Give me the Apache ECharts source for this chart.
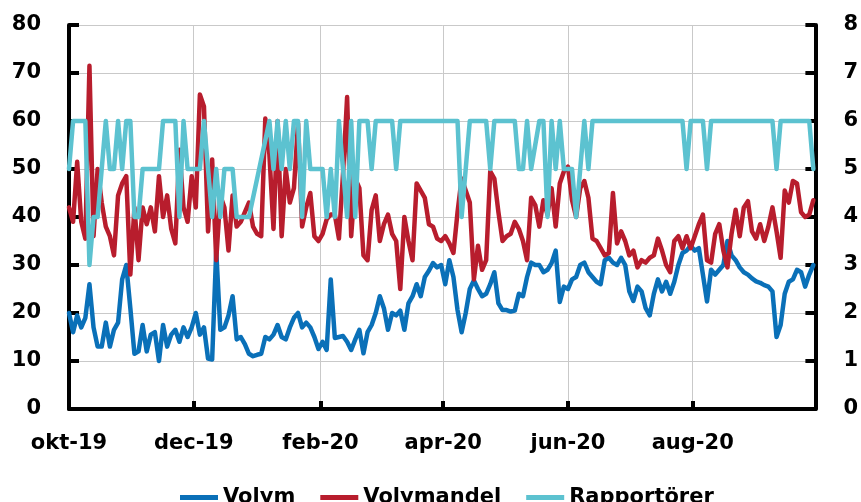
<!DOCTYPE html>
<html>
<head>
<meta charset="utf-8">
<script src="https://cdn.jsdelivr.net/npm/echarts@6/dist/echarts.min.js"></script>
<style>html,body{margin:0;padding:0;background:#fff}#c{width:861px;height:502px}</style>
</head>
<body>
<div id="c"></div>
<script>
// Period shown: 2019-10-01 .. 2020-09-30 ; values sampled every 2nd calendar day
const startDate = '2019-10-01';
const endDate = '2020-09-30';
const sampleStep = 2;
const tickMonths = [10, 12, 2, 4, 6, 8];
const monthNames = ['jan','feb','mar','apr','maj','jun','jul','aug','sep','okt','nov','dec'];
const seriesNames = ['Volym', 'Volymandel', 'Rapportörer'];

const volym = [
  20, 16, 19.5, 17, 19, 26, 17, 13, 13, 18,
  13, 16.5, 18, 27, 30, 21, 11.5, 12, 17.5, 12,
  15.5, 16, 10, 17.5, 13, 15.5, 16.5, 14, 17, 15,
  17, 20, 15.5, 17, 10.5, 10.3, 33, 16.5, 17, 19.5,
  23.5, 14.5, 15, 13.5, 11.5, 11, 11.3, 11.5, 15, 14.5,
  15.5, 17.5, 15, 14.5, 17, 19, 20, 17, 18, 17,
  15, 12.5, 14, 12.3, 27, 14.8, 15, 15.2, 14, 12.3,
  14.5, 16.5, 11.6, 16, 17.5, 20, 23.5, 21, 16.5, 20,
  19.5, 20.5, 16.5, 22, 23.5, 26, 23.5, 27.5, 28.8, 30.4,
  29.5, 30, 26, 31, 27.5, 20.6, 16, 20, 25, 26.8,
  25, 23.5, 24, 26, 28.5, 22, 20.6, 20.6, 20.3, 20.5,
  24, 23.5, 27.5, 30.5, 30, 30, 28.5, 29, 30.4, 33,
  22.3, 25.5, 25, 27, 27.5, 30, 30.5, 28.5, 27.5, 26.5,
  26, 31, 31.5, 30.5, 30, 31.5, 30, 24.5, 22.5, 25.5,
  24.5, 21, 19.5, 24, 27, 24.5, 26.5, 24, 26.5, 30,
  32.5, 33, 34, 33, 33.5, 28, 22.4, 29, 28, 29,
  30, 35, 32, 31, 29.5, 28.5, 28, 27.2, 26.6, 26.3,
  25.8, 25.5, 24.5, 15, 17.5, 24, 26.5, 27, 29, 28.5,
  25.5, 28, 30
];

const volymandel = [
  42, 39, 51.5, 39, 35.5, 71.5, 36, 50, 43, 38,
  36, 32, 44.5, 47, 48.5, 28, 42, 31, 42, 38.5,
  42, 37, 48.5, 40, 44.5, 37.5, 34.5, 54, 42, 39,
  48.5, 42, 65.5, 63, 37, 52, 31, 44.5, 42, 33,
  44.5, 38, 39, 41, 43, 38, 36.5, 36, 60.5, 53,
  37.5, 60, 36, 50, 43, 46, 59.5, 38, 42, 45,
  36, 35, 36.5, 39.5, 40.5, 40.5, 35.5, 49, 65, 36,
  48, 46, 32, 31, 41.5, 44.5, 35, 38.5, 40.5, 36.5,
  35, 25, 40, 35, 31, 47, 45.5, 44, 38.5, 38,
  35.5, 35, 36, 34.5, 32.5, 41, 48, 45.5, 43, 27,
  34, 29, 31, 49.5, 48, 41, 35, 36, 36.5, 39,
  37.5, 35, 31, 44, 42.5, 38, 43.5, 40.5, 46, 38,
  47, 49.5, 50.5, 43.5, 40, 46, 47.5, 44, 35.5, 35,
  33.5, 32, 32.5, 45, 34.5, 37, 35, 32, 33, 29.5,
  31, 30.5, 31.5, 32, 35.5, 33, 30, 28.5, 35, 36,
  33.5, 36, 33.5, 36, 38.5, 40.5, 31, 30.5, 36.5, 38.5,
  33, 29.5, 36.5, 41.5, 36, 42, 43.3, 37, 35.5, 38.5,
  35, 38, 42, 37, 31.5, 45.5, 43, 47.5, 47, 41,
  40, 40.5, 43.5
];

const rapportorer = [
  5, 6, 6, 6, 6, 3, 4, 4, 5, 6,
  5, 5, 6, 5, 6, 6, 4, 4, 5, 5,
  5, 5, 5, 6, 6, 6, 6, 4, 6, 5,
  5, 5, 5, 6, null, 4, 5, 4, 5, 5,
  5, 4, 4, 4, 4, null, null, null, null, 6,
  5, 6, 5, 6, 5, 6, 6, 4, 6, 5,
  5, 5, 5, 4, 5, 4, 6, 5, 4, 6,
  4, 6, 6, 6, 5, 6, 6, 6, 6, 6,
  5, 6, 6, 6, 6, 6, 6, 6, 6, 6,
  6, 6, 6, 6, 6, 6, 4, null, 6, 6,
  6, 6, 6, 5, 6, 6, 6, 6, 6, 6,
  5, 5, 6, 5, null, 6, 6, 4, 6, 5,
  6, 5, 5, 5, 4, null, 6, 5, 6, 6,
  6, 6, 6, 6, 6, 6, 6, 6, 6, 6,
  6, 6, 6, 6, 6, 6, 6, 6, 6, 6,
  6, 5, 6, 6, 6, 6, 5, 6, 6, 6,
  6, 6, 6, 6, 6, 6, 6, 6, 6, 6,
  6, 6, 6, 5, 6, 6, 6, 6, 6, 6,
  6, 6, 5
];

// calendar-day categories for the x axis
const categories = [];
(function () {
  const d = new Date(startDate + 'T00:00:00Z');
  const e = new Date(endDate + 'T00:00:00Z');
  while (d <= e) {
    categories.push(d.toISOString().slice(0, 10));
    d.setUTCDate(d.getUTCDate() + 1);
  }
})();

function toPairs(vals) {
  return vals.map((v, i) => [i * sampleStep, v]);
}
function isTick(index, value) {
  const v = value || categories[index];
  if (!v) return false;
  const m = +v.slice(5, 7), day = +v.slice(8, 10);
  return day === 1 && tickMonths.indexOf(m) >= 0;
}
function fmtLabel(value) {
  const m = +value.slice(5, 7);
  return monthNames[m - 1] + '-' + value.slice(2, 4);
}

const font = {fontFamily: 'DejaVu Sans', fontWeight: 'bold', fontSize: 21, color: '#000'};
const gridColor = '#c9c9c9';

const chart = echarts.init(document.getElementById('c'), null, {renderer: 'canvas'});
const lineSeries = (name, vals, color, yIdx, z) => ({
  name, type: 'line', yAxisIndex: yIdx, data: toPairs(vals), symbol: 'none',
  connectNulls: true, z,
  lineStyle: {color, width: 4.5, join: 'round', cap: 'round'},
  itemStyle: {color}
});

chart.setOption({
  animation: false,
  grid: {left: 69, right: 45, top: 25, bottom: 93, containLabel: false},
  legend: {
    left: 175, top: 482, itemWidth: 38, itemHeight: 5, itemGap: 25, icon: 'rect',
    textStyle: Object.assign({}, font, {padding: [0, 0, 0, 0]}),
    data: seriesNames
  },
  xAxis: {
    type: 'category', data: categories, boundaryGap: false,
    axisLine: {lineStyle: {color: '#000', width: 4}},
    axisTick: {show: true, inside: true, length: 8, interval: isTick, lineStyle: {color: '#000', width: 4}},
    axisLabel: Object.assign({}, font, {interval: isTick, formatter: fmtLabel, margin: 24}),
    splitLine: {show: true, interval: isTick, lineStyle: {color: gridColor, width: 1}}
  },
  yAxis: [
    {
      type: 'value', position: 'left', min: 0, max: 80, interval: 10,
      axisLine: {show: true, lineStyle: {color: '#000', width: 4}},
      axisTick: {show: true, inside: true, length: 10, lineStyle: {color: '#000', width: 4}},
      axisLabel: Object.assign({}, font, {margin: 28}),
      splitLine: {show: true, lineStyle: {color: gridColor, width: 1}}
    },
    {
      type: 'value', position: 'right', min: 0, max: 8, interval: 1,
      axisLine: {show: true, lineStyle: {color: '#000', width: 4}},
      axisTick: {show: true, inside: true, length: 10, lineStyle: {color: '#000', width: 4}},
      axisLabel: Object.assign({}, font, {margin: 28}),
      splitLine: {show: false}
    }
  ],
  series: [
    lineSeries(seriesNames[0], volym, '#0a70b8', 0, 2),
    lineSeries(seriesNames[1], volymandel, '#b81d2d', 0, 3),
    lineSeries(seriesNames[2], rapportorer, '#5cc2d0', 1, 4)
  ]
});
</script>
</body>
</html>
